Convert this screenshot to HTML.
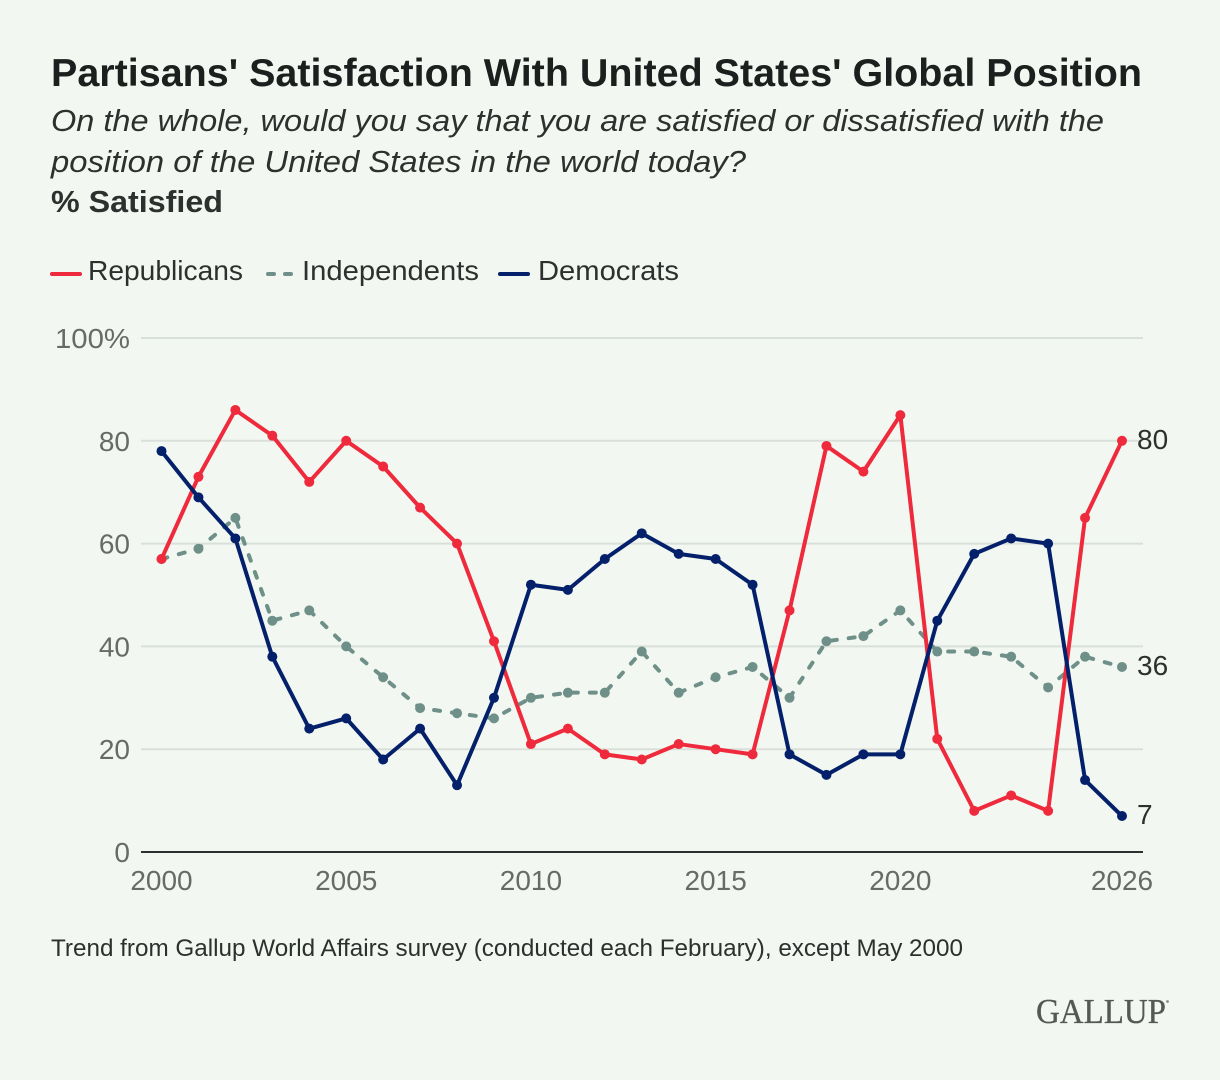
<!DOCTYPE html>
<html lang="en">
<head>
<meta charset="utf-8">
<title>Partisans' Satisfaction With United States' Global Position</title>
<style>
html,body{margin:0;padding:0;background:#f2f8f1;}
svg{display:block;font-family:"Liberation Sans",sans-serif;}
</style>
</head>
<body>
<svg id="chart" width="1220" height="1080" viewBox="0 0 1220 1080" xmlns="http://www.w3.org/2000/svg">
<rect width="1220" height="1080" fill="#f2f8f1"/>
<text x="51" y="86" font-size="39" font-weight="700" fill="#1d1f1e" textLength="1091" lengthAdjust="spacingAndGlyphs">Partisans' Satisfaction With United States' Global Position</text>
<text x="51" y="131" font-size="31" font-style="italic" fill="#2c302e" textLength="1053" lengthAdjust="spacingAndGlyphs">On the whole, would you say that you are satisfied or dissatisfied with the</text>
<text x="51" y="172" font-size="31" font-style="italic" fill="#2c302e" textLength="695" lengthAdjust="spacingAndGlyphs">position of the United States in the world today?</text>
<text x="51" y="212" font-size="31" font-weight="700" fill="#2c302e" textLength="172" lengthAdjust="spacingAndGlyphs">% Satisfied</text>

<g>
<line x1="52" y1="274" x2="80" y2="274" stroke="#ee2a3c" stroke-width="4" stroke-linecap="round"/>
<text x="88" y="280" font-size="28" fill="#2c302e" textLength="155" lengthAdjust="spacingAndGlyphs">Republicans</text>
<line x1="268" y1="274" x2="292" y2="274" stroke="#6e9088" stroke-width="4" stroke-linecap="round" stroke-dasharray="6 11"/>
<text x="302" y="280" font-size="28" fill="#2c302e" textLength="177" lengthAdjust="spacingAndGlyphs">Independents</text>
<line x1="500" y1="274" x2="528" y2="274" stroke="#04206b" stroke-width="4" stroke-linecap="round"/>
<text x="538" y="280" font-size="28" fill="#2c302e" textLength="141" lengthAdjust="spacingAndGlyphs">Democrats</text>
</g>

<g id="grid"></g>
<g id="yticks"></g>
<g id="xticks"></g>
<g id="series"></g>
<g id="endlabels"></g>

<text x="51" y="956" font-size="24" fill="#2c302e" textLength="912" lengthAdjust="spacingAndGlyphs">Trend from Gallup World Affairs survey (conducted each February), except May 2000</text>
<text x="1036" y="1023" font-family="'Liberation Serif',serif" font-size="35" fill="#555855" stroke="#555855" stroke-width="0.3" textLength="130" lengthAdjust="spacingAndGlyphs">GALLUP</text>
<circle cx="1167.5" cy="1001.5" r="1.4" fill="#8a8c8a"/>
</svg>
<script>
const years = [2000,2001,2002,2003,2004,2005,2006,2007,2008,2009,2010,2011,2012,2013,2014,2015,2016,2017,2018,2019,2020,2021,2022,2023,2024,2025,2026];
const republicans = [57,73,86,81,72,80,75,67,60,41,21,24,19,18,21,20,19,47,79,74,85,22,8,11,8,65,80];
const independents = [57,59,65,45,47,40,34,28,27,26,30,31,31,39,31,34,36,30,41,42,47,39,39,38,32,38,36];
const democrats = [78,69,61,38,24,26,18,24,13,30,52,51,57,62,58,57,52,19,15,19,19,45,58,61,60,14,7];
const yTicks = [0,20,40,60,80,100];
const xTickYears = [2000,2005,2010,2015,2020,2026];

const NS = 'http://www.w3.org/2000/svg';
const xScale = function (yr) { return 161.5 + (yr - years[0]) * (1122 - 161.5) / (years[years.length - 1] - years[0]); };
const yScale = function (v) { return 852 - v * 5.14; };
function make(tag, attrs, parent) {
  const el = document.createElementNS(NS, tag);
  for (const k in attrs) el.setAttribute(k, attrs[k]);
  parent.appendChild(el);
  return el;
}

const grid = document.getElementById('grid');
const yG = document.getElementById('yticks');
yTicks.forEach(function (t) {
  const isBase = t === 0;
  const ln = make('line', {x1: 141, x2: 1143, y1: yScale(t), y2: yScale(t), stroke: isBase ? '#2c302e' : '#d9dfd9', 'stroke-width': 2}, grid);
  
  
  const attrs = {x: 130, y: yScale(t) + 10, 'text-anchor': 'end', 'font-size': 28, fill: '#676b68'};
  if (t === 100) {
    attrs.x = 55;
    attrs['text-anchor'] = 'start';
    attrs.textLength = 75;
    attrs.lengthAdjust = 'spacingAndGlyphs';
  }
  const tx = make('text', attrs, yG);
  tx.textContent = t === 100 ? '100%' : String(t);
  
  
});

const xG = document.getElementById('xticks');
xTickYears.forEach(function (yr) {
  const tx = make('text', {x: xScale(yr), y: 890, 'text-anchor': 'middle', 'font-size': 28, fill: '#676b68'}, xG);
  tx.textContent = String(yr);
  
  
});

const seriesG = document.getElementById('series');
const endG = document.getElementById('endlabels');
function drawSeries(name, values, color, dash) {
  const g = make('g', {}, seriesG);
  
  
  const pts = values.map(function (v, i) { return xScale(years[i]).toFixed(2) + ',' + yScale(v).toFixed(2); }).join(' ');
  const attrs = {points: pts, fill: 'none', stroke: color, 'stroke-width': 4, 'stroke-linejoin': 'round', 'stroke-linecap': 'round'};
  if (dash) attrs['stroke-dasharray'] = dash;
  const line = make('polyline', attrs, g);
  
  
  values.forEach(function (v, i) {
    const c = make('circle', {cx: xScale(years[i]), cy: yScale(v), r: 5, fill: color}, g);
    
    
  });
  const last = values[values.length - 1];
  const lab = make('text', {x: 1137, y: yScale(last) + 8, 'font-size': 28, fill: '#2c302e'}, endG);
  lab.textContent = String(last);
  
  
}
drawSeries('independents', independents, '#6e9088', '6 12');
drawSeries('republicans', republicans, '#ee2a3c', null);
drawSeries('democrats', democrats, '#04206b', null);
</script>
</body>
</html>
